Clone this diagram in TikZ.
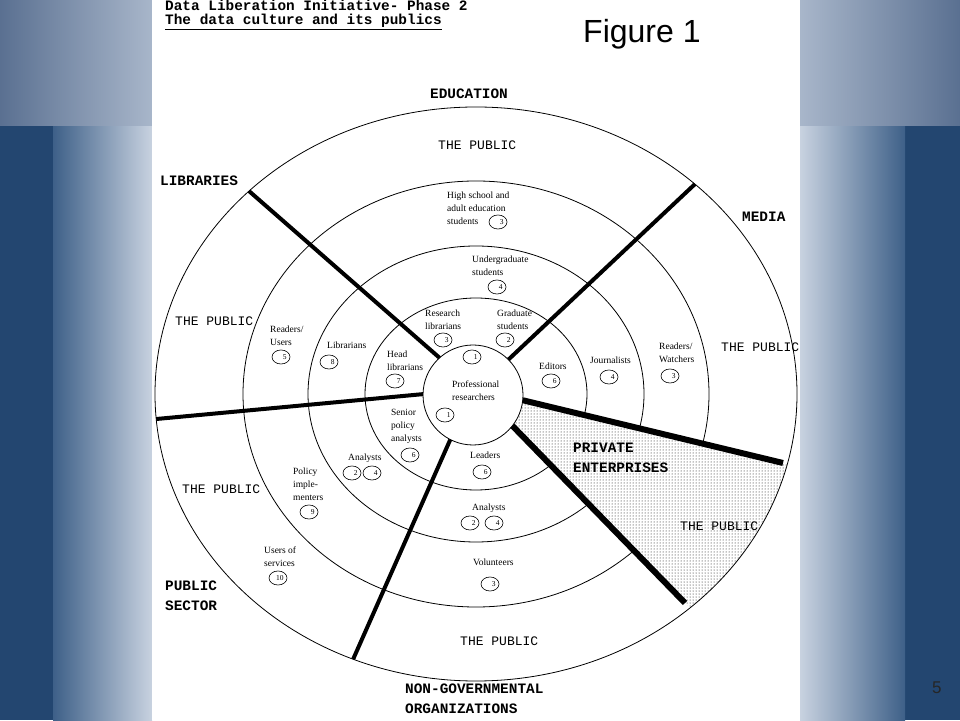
\documentclass[tikz,border=0pt]{standalone}
\usepackage{fontspec}
\setmainfont{Liberation Serif}
\setsansfont{Liberation Sans}
\setmonofont{Liberation Mono}
\usepackage{tikz}
\usetikzlibrary{calc,patterns,positioning,shapes.geometric}
\definecolor{slideNavy}{RGB}{35,70,112}
\definecolor{slideMid}{RGB}{62,96,136}
\definecolor{slideLight}{RGB}{200,210,224}
\definecolor{bandDark}{RGB}{90,112,145}
\definecolor{bandLight}{RGB}{168,182,202}
\tikzset{
  ringLine/.style={draw=black,line width=0.8pt},
  spokeLine/.style={draw=black,line width=#1},
  secTag/.style={font=\fontsize{14.4}{20}\selectfont\ttfamily\bfseries,align=left,inner sep=0pt},
  pubTag/.style={font=\fontsize{13}{15}\selectfont\ttfamily,inner sep=0pt,anchor=base west},
  roleTxt/.style={font=\fontsize{9.5}{13}\selectfont,align=left,inner sep=0pt,anchor=west},
  numOval/.style={ellipse,draw,line width=0.6pt,minimum width=18pt,minimum height=14pt,
                  inner sep=0pt,text width=11pt,align=right,font=\fontsize{7.5}{8}\selectfont},
}
\begin{document}
\begin{tikzpicture}[x=1pt,y=1pt]
  \useasboundingbox (0,0) rectangle (960,720);
  \fill[slideNavy] (0,0) rectangle (960,720);
  \shade[left color=slideMid,right color=slideLight] (53,0) rectangle (152,594);
  \shade[left color=bandDark,right color=bandLight] (0,594) rectangle (152,720);
  \shade[left color=slideLight,right color=slideMid] (800,0) rectangle (905,594);
  \shade[left color=bandLight,right color=bandDark] (800,594) rectangle (960,720);
  \fill[white] (152,0) rectangle (800,720);

  \node[font=\fontsize{14.4}{14}\selectfont\ttfamily\bfseries,align=left,anchor=base west,inner sep=0pt]
    (ttl) at (165,695) {Data Liberation Initiative- Phase 2\\\underline{The data culture and its publics}};
  \node[font=\sffamily\fontsize{32}{32}\selectfont,anchor=base west,inner sep=0pt]
    (fig) at (583,677) {Figure 1};
  \node[font=\sffamily\fontsize{17}{17}\selectfont,text=black!85,anchor=base west,inner sep=0pt]
    (pg) at (932,27) {5};

  \coordinate (c) at (476,326);
  \coordinate (ci) at (473,325);
  \foreach \rx/\ry in {111/96,168/148,233/213}{\draw[ringLine](c) ellipse[x radius=\rx pt,y radius=\ry pt];}

  \foreach \nm/\a/\b in {lib/132/135,med/45/47,pub/179/185,ngo/243/247.5}{
    \coordinate (\nm-in) at ($(ci)+(\a:50pt)$);
    \coordinate (\nm-out) at ($(c)+(\b:321pt and 287pt)$);
  }
  \coordinate (pvU-in) at ($(ci)+(-6:50pt)$);
  \coordinate (pvU-out) at (783,257);
  \coordinate (pvL-in) at ($(ci)+(-38:50pt)$);
  \coordinate (pvL-out) at (685,117);

  \begin{scope}
    \clip (pvU-in) -- ($(pvU-in)!1.3!(pvU-out)$) -- ($(pvL-in)!1.3!(pvL-out)$) -- (pvL-in) -- cycle;
    \fill[white] (c) ellipse[x radius=321pt,y radius=287pt];
    \fill[pattern=dots,pattern color=black] (c) ellipse[x radius=321pt,y radius=287pt];
  \end{scope}
  \draw[ringLine,fill=white] (ci) circle[radius=50pt];
  \draw[ringLine] (c) ellipse[x radius=321pt,y radius=287pt];

  \foreach \nm in {lib,med,pub,ngo}{\draw[spokeLine=4pt](\nm-in)--(\nm-out);}
  \foreach \nm in {pvU,pvL}{\draw[spokeLine=6pt](\nm-in)--(\nm-out);}

  \node[secTag,anchor=base] (edu) at (469,621.5) {EDUCATION};
  \node[secTag,anchor=base west] (libs) at (160,534.5) {LIBRARIES};
  \node[secTag,anchor=base west] (media) at (742,498.5) {MEDIA};
  \node[secTag,anchor=base west] (psec) at (165,109.5) {PUBLIC\\SECTOR};
  \node[secTag,anchor=base west] (ngos) at (405,6.5) {NON-GOVERNMENTAL\\ORGANIZATIONS};
  \node[secTag,anchor=base west] (priv) at (573,247.5) {PRIVATE\\ENTERPRISES};

  \node[pubTag] (tpEdu) at (438,570) {THE PUBLIC};
  \node[pubTag] (tpLib) at (175,394) {THE PUBLIC};
  \node[pubTag] (tpMed) at (721,368) {THE PUBLIC};
  \node[pubTag] (tpPub) at (182,226) {THE PUBLIC};
  \node[pubTag] (tpNgo) at (460,75) {THE PUBLIC};
  \node[pubTag] (tpPriv) at (680,189) {THE PUBLIC};

  \node[roleTxt] (edHigh) at (447,511.7) {High school and\\adult education\\students};
  \node[roleTxt] (edUnder) at (472,454.5) {Undergraduate\\students};
  \node[roleTxt] (edResLib) at (425,400.5) {Research\\librarians};
  \node[roleTxt] (edGrad) at (497,400.5) {Graduate\\students};
  \node[roleTxt] (prof) at (452,329) {Professional\\researchers};
  \node[roleTxt] (libRead) at (270,384.5) {Readers/\\Users};
  \node[roleTxt] (libLib) at (327,375) {Librarians};
  \node[roleTxt] (libHead) at (387,359.5) {Head\\librarians};
  \node[roleTxt] (medEd) at (539,354) {Editors};
  \node[roleTxt] (medJour) at (590,360) {Journalists};
  \node[roleTxt] (medRead) at (659,367.5) {Readers/\\Watchers};
  \node[roleTxt] (pubSen) at (391,293.3) {Senior\\policy\\analysts};
  \node[roleTxt] (pubAna) at (348,262) {Analysts};
  \node[roleTxt] (pubPol) at (293,235.3) {Policy\\imple-\\menters};
  \node[roleTxt] (pubUse) at (264,163) {Users of\\services};
  \node[roleTxt] (ngoLead) at (470,265) {Leaders};
  \node[roleTxt] (ngoAna) at (472,212) {Analysts};
  \node[roleTxt] (ngoVol) at (473,158) {Volunteers};

  \foreach \nm/\px/\py/\d in {edHigh/498/498/3,edUnder/497/433/4,edResLib/443/380/3,edGrad/505/380/2,
      profA/472/363/1,profB/445/305/1,libRead/281/363/5,libLib/329/358/8,libHead/395/339/7,
      medEd/551/339/6,medJour/609/343/4,medRead/670/344/3,pubSen/410/265/6,pubAnaA/352/247/2,
      pubAnaB/372/247/4,pubPol/309/208/9,pubUse/278/142/10,ngoLead/482/248/6,ngoAnaA/470/197/2,
      ngoAnaB/494/197/4,ngoVol/490/136/3}{
    \node[numOval] (o-\nm) at (\px,\py) {\d};
  }
\end{tikzpicture}
\end{document}
